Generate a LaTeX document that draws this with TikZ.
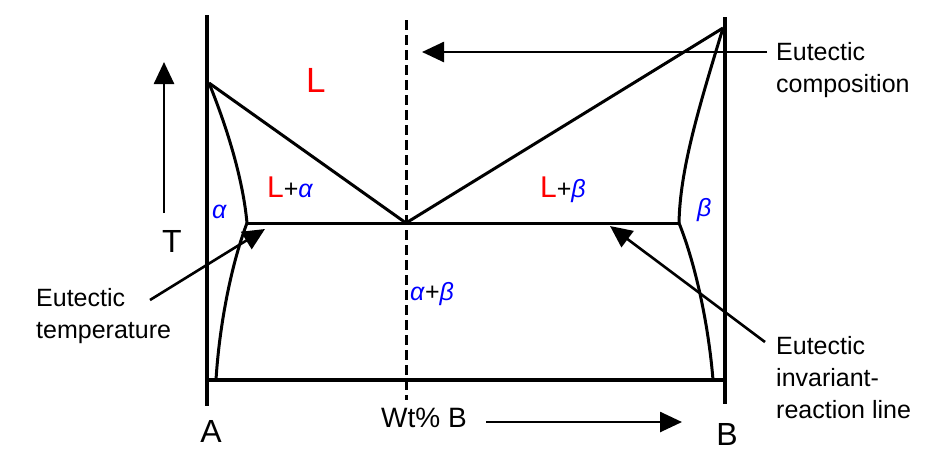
\documentclass[tikz,border=0pt]{standalone}
\usepackage{fontspec}
\setmainfont{Liberation Sans}
\usetikzlibrary{arrows.meta}
\definecolor{lred}{RGB}{255,0,0}
\definecolor{lblue}{RGB}{0,0,255}
\tikzset{
  frame/.style={line width=3.4pt},
  phase/.style={line width=3pt},
  guide/.style={line width=3pt, dash pattern=on 10pt off 5pt},
  ann/.style={line width=2.6pt, -{Triangle[length=22pt,width=20pt]}},
  lbl/.style={font=\fontsize{25}{32}\selectfont, align=left, inner sep=0pt},
  axl/.style={font=\fontsize{32}{36}\selectfont, inner sep=0pt},
  ph/.style={font=\fontsize{25}{30}\selectfont, inner sep=0pt, anchor=base west}
}
\newcommand{\ga}{\textcolor{lblue}{\textit{α}}}
\newcommand{\gb}{\textcolor{lblue}{\textit{β}}}
\newcommand{\bigL}{\textcolor{lred}{\fontsize{30}{30}\selectfont L}}
\begin{document}
\begin{tikzpicture}[x=1pt,y=-1pt]
\useasboundingbox (0,0) rectangle (933,472);
% key points
\coordinate (Atop) at (207,15);
\coordinate (Abot) at (207,406);
\coordinate (Btop) at (725,17);
\coordinate (Bbot) at (725,404);
\coordinate (TmA) at (209,83);
\coordinate (TmB) at (723,28);
\coordinate (E) at (406,223);
\coordinate (SA) at (247,223);
\coordinate (SB) at (679,223);
\coordinate (RA) at (216,380);
\coordinate (RB) at (713,380);
\coordinate (BotL) at (207,380);
\coordinate (BotR) at (725,380);
\coordinate (Dtop) at (406,20);
\coordinate (Dbot) at (406,400);
% frame
\draw[frame] (Atop) -- (Abot);
\draw[frame] (Btop) -- (Bbot);
\draw[frame] (BotL) -- (BotR);
% phase boundaries
\draw[phase] (TmA) -- (E) -- (TmB);
\draw[phase] (SA) -- (SB);
\draw[phase] (TmA) .. controls (228,130) and (243,180) .. (SA);
\draw[phase] (SA) .. controls (230,268) and (219,330) .. (RA);
\draw[phase] (TmB) .. controls (698,110) and (680,170) .. (SB);
\draw[phase] (SB) .. controls (697,268) and (709,330) .. (RB);
\draw[guide] (Dtop) -- (Dbot);
% phase labels
\node[ph, font=\fontsize{35}{35}\selectfont, text=lred] (L) at (306,92) {L};
\node[ph] (La) at (267,197) {\bigL+\ga};
\node[ph] (Lb) at (540,197) {\bigL+\gb};
\node[ph] (a) at (212,218) {\ga};
\node[ph] (b) at (697,216) {\gb};
\node[ph] (ab) at (410,300) {\ga+\gb};
% axis labels
\node[axl, anchor=base] (A) at (211,442) {A};
\node[axl, anchor=base] (B) at (727,445) {B};
\node[axl, anchor=base] (T) at (172,252) {T};
\node[lbl, font=\fontsize{28}{32}\selectfont, anchor=base west] (wt) at (381,427) {Wt\% B};
\coordinate (Tlow) at (164,213);
\coordinate (Thigh) at (164,62);
\draw[ann] (Tlow) -- (Thigh);
\coordinate (Wl) at (486,422);
\coordinate (Wr) at (682,422);
\draw[ann] (Wl) -- (Wr);
% annotations
\node[lbl, anchor=base west] (comp) at (776,92) {Eutectic\\composition};
\coordinate (c0) at (767,52);
\coordinate (c1) at (422,52);
\draw[ann] (c0) -- (c1);
\node[lbl, anchor=base west] (temp) at (36,338) {Eutectic\\temperature};
\coordinate (t0) at (150,300);
\coordinate (t1) at (265,229);
\draw[ann] (t0) -- (t1);
\node[lbl, anchor=base west] (inv) at (776,418) {Eutectic\\invariant-\\reaction line};
\coordinate (i0) at (765,342);
\coordinate (i1) at (610,226);
\draw[ann] (i0) -- (i1);
\end{tikzpicture}
\end{document}
